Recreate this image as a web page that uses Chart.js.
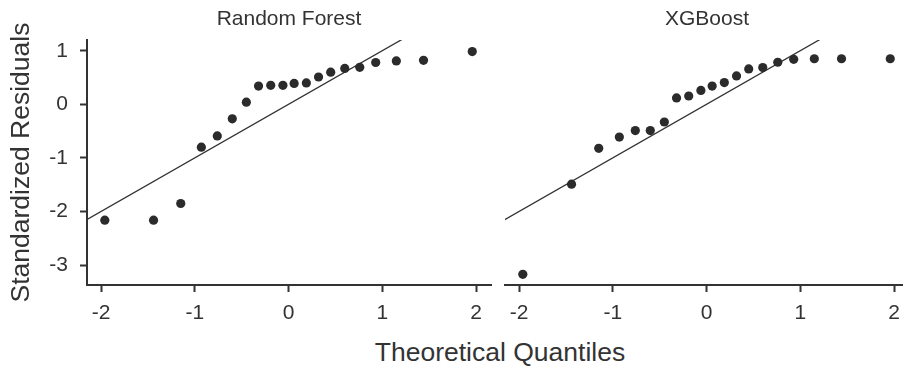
<!DOCTYPE html>
<html>
<head>
<meta charset="utf-8">
<script src="https://cdn.jsdelivr.net/npm/chart.js@4.4.0/dist/chart.umd.min.js"></script>
<style>
  body { margin: 0; background: #fff; overflow: hidden; }
  #wrap { position: relative; width: 903px; height: 371px; overflow: hidden; font-family: "Liberation Sans", Arial, sans-serif; color: #333; }
  canvas { position: absolute; top: 0; }
  .panelTitle { position: absolute; top: 7px; font-size: 21px; line-height: 21px; text-align: center; white-space: nowrap; }
  #xTitle { position: absolute; left: 300px; width: 400px; top: 339px; font-size: 26.5px; line-height: 26.5px; text-align: center; }
</style>
</head>
<body>
<div id="wrap">
  <canvas id="rfChart" width="500" height="330" style="left:0px"></canvas>
  <canvas id="xgbChart" width="420" height="330" style="left:495px"></canvas>
  <div class="panelTitle" style="left:189px;width:200px">Random Forest</div>
  <div class="panelTitle" style="left:607px;width:200px">XGBoost</div>
  <div id="xTitle">Theoretical Quantiles</div>
</div>
<script>
// Data
const theoQuantiles = [-1.96, -1.44, -1.15, -0.93, -0.76, -0.60, -0.45, -0.32, -0.19, -0.06,
                       0.06, 0.19, 0.32, 0.45, 0.60, 0.76, 0.93, 1.15, 1.44, 1.96];
const rfResiduals = [-2.16, -2.16, -1.85, -0.80, -0.59, -0.27, 0.04, 0.34, 0.355, 0.355,
                     0.39, 0.40, 0.51, 0.60, 0.67, 0.69, 0.78, 0.81, 0.82, 0.985];
const xgbResiduals = [-3.17, -1.49, -0.82, -0.61, -0.49, -0.49, -0.33, 0.12, 0.155, 0.26,
                      0.34, 0.405, 0.53, 0.66, 0.685, 0.785, 0.84, 0.85, 0.85, 0.85];
const xTicks = [-2, -1, 0, 1, 2];
const yTicks = [-3, -2, -1, 0, 1];
const refLine = [-2.5, 2.5]; // garis y = x

const fontFamily = '"Liberation Sans", Arial, sans-serif';
const ink = '#333';

const makeDatasets = (residuals) => [{
  data: theoQuantiles.map((q, i) => ({ x: q, y: residuals[i] })),
  backgroundColor: '#2b2b2b',
  borderWidth: 0,
  pointRadius: 4.6,
  pointHoverRadius: 4.6
}, {
  data: refLine.map(v => ({ x: v, y: v })),
  showLine: true,
  borderColor: '#333',
  borderWidth: 1.3,
  pointRadius: 0,
  clip: 0
}];

const xScale = () => ({
  type: 'linear',
  min: -2.15,
  max: 2.16,
  afterBuildTicks: scale => { scale.ticks = xTicks.map(v => ({ value: v })); },
  afterFit: scale => { scale.height = 45; },
  border: { display: true, color: ink, width: 2 },
  grid: { display: true, drawOnChartArea: false, drawTicks: true, tickLength: 7, tickWidth: 2, tickColor: ink },
  ticks: { color: ink, padding: 9, font: { family: fontFamily, size: 21 } }
});

const yScale = (show) => ({
  type: 'linear',
  display: show,
  min: -3.37,
  max: 1.2,
  afterBuildTicks: scale => { scale.ticks = yTicks.map(v => ({ value: v })); },
  afterFit: scale => { if (show) scale.width = 87; },
  border: { display: true, color: ink, width: 2 },
  grid: { display: true, drawOnChartArea: false, drawTicks: true, tickLength: 7, tickWidth: 2, tickColor: ink },
  ticks: { color: ink, padding: 12, font: { family: fontFamily, size: 21 } },
  title: {
    display: show,
    text: 'Standardized Residuals',
    color: ink,
    padding: { top: 6, bottom: 0 },
    font: { family: fontFamily, size: 26.5 }
  }
});

const baseOptions = (showY, padding) => ({
  responsive: false,
  animation: false,
  layout: { padding: padding },
  plugins: { legend: { display: false }, tooltip: { enabled: false } },
  scales: { x: xScale(), y: yScale(showY) }
});

// Panel Random Forest
new Chart(document.getElementById('rfChart').getContext('2d'), {
  type: 'scatter',
  data: { datasets: makeDatasets(rfResiduals) },
  options: baseOptions(true, { top: 40, right: 9, left: 0, bottom: 0 })
});

// Panel XGBoost
new Chart(document.getElementById('xgbChart').getContext('2d'), {
  type: 'scatter',
  data: { datasets: makeDatasets(xgbResiduals) },
  options: baseOptions(false, { top: 40, right: 6, left: 10, bottom: 0 })
});
</script>
</body>
</html>
